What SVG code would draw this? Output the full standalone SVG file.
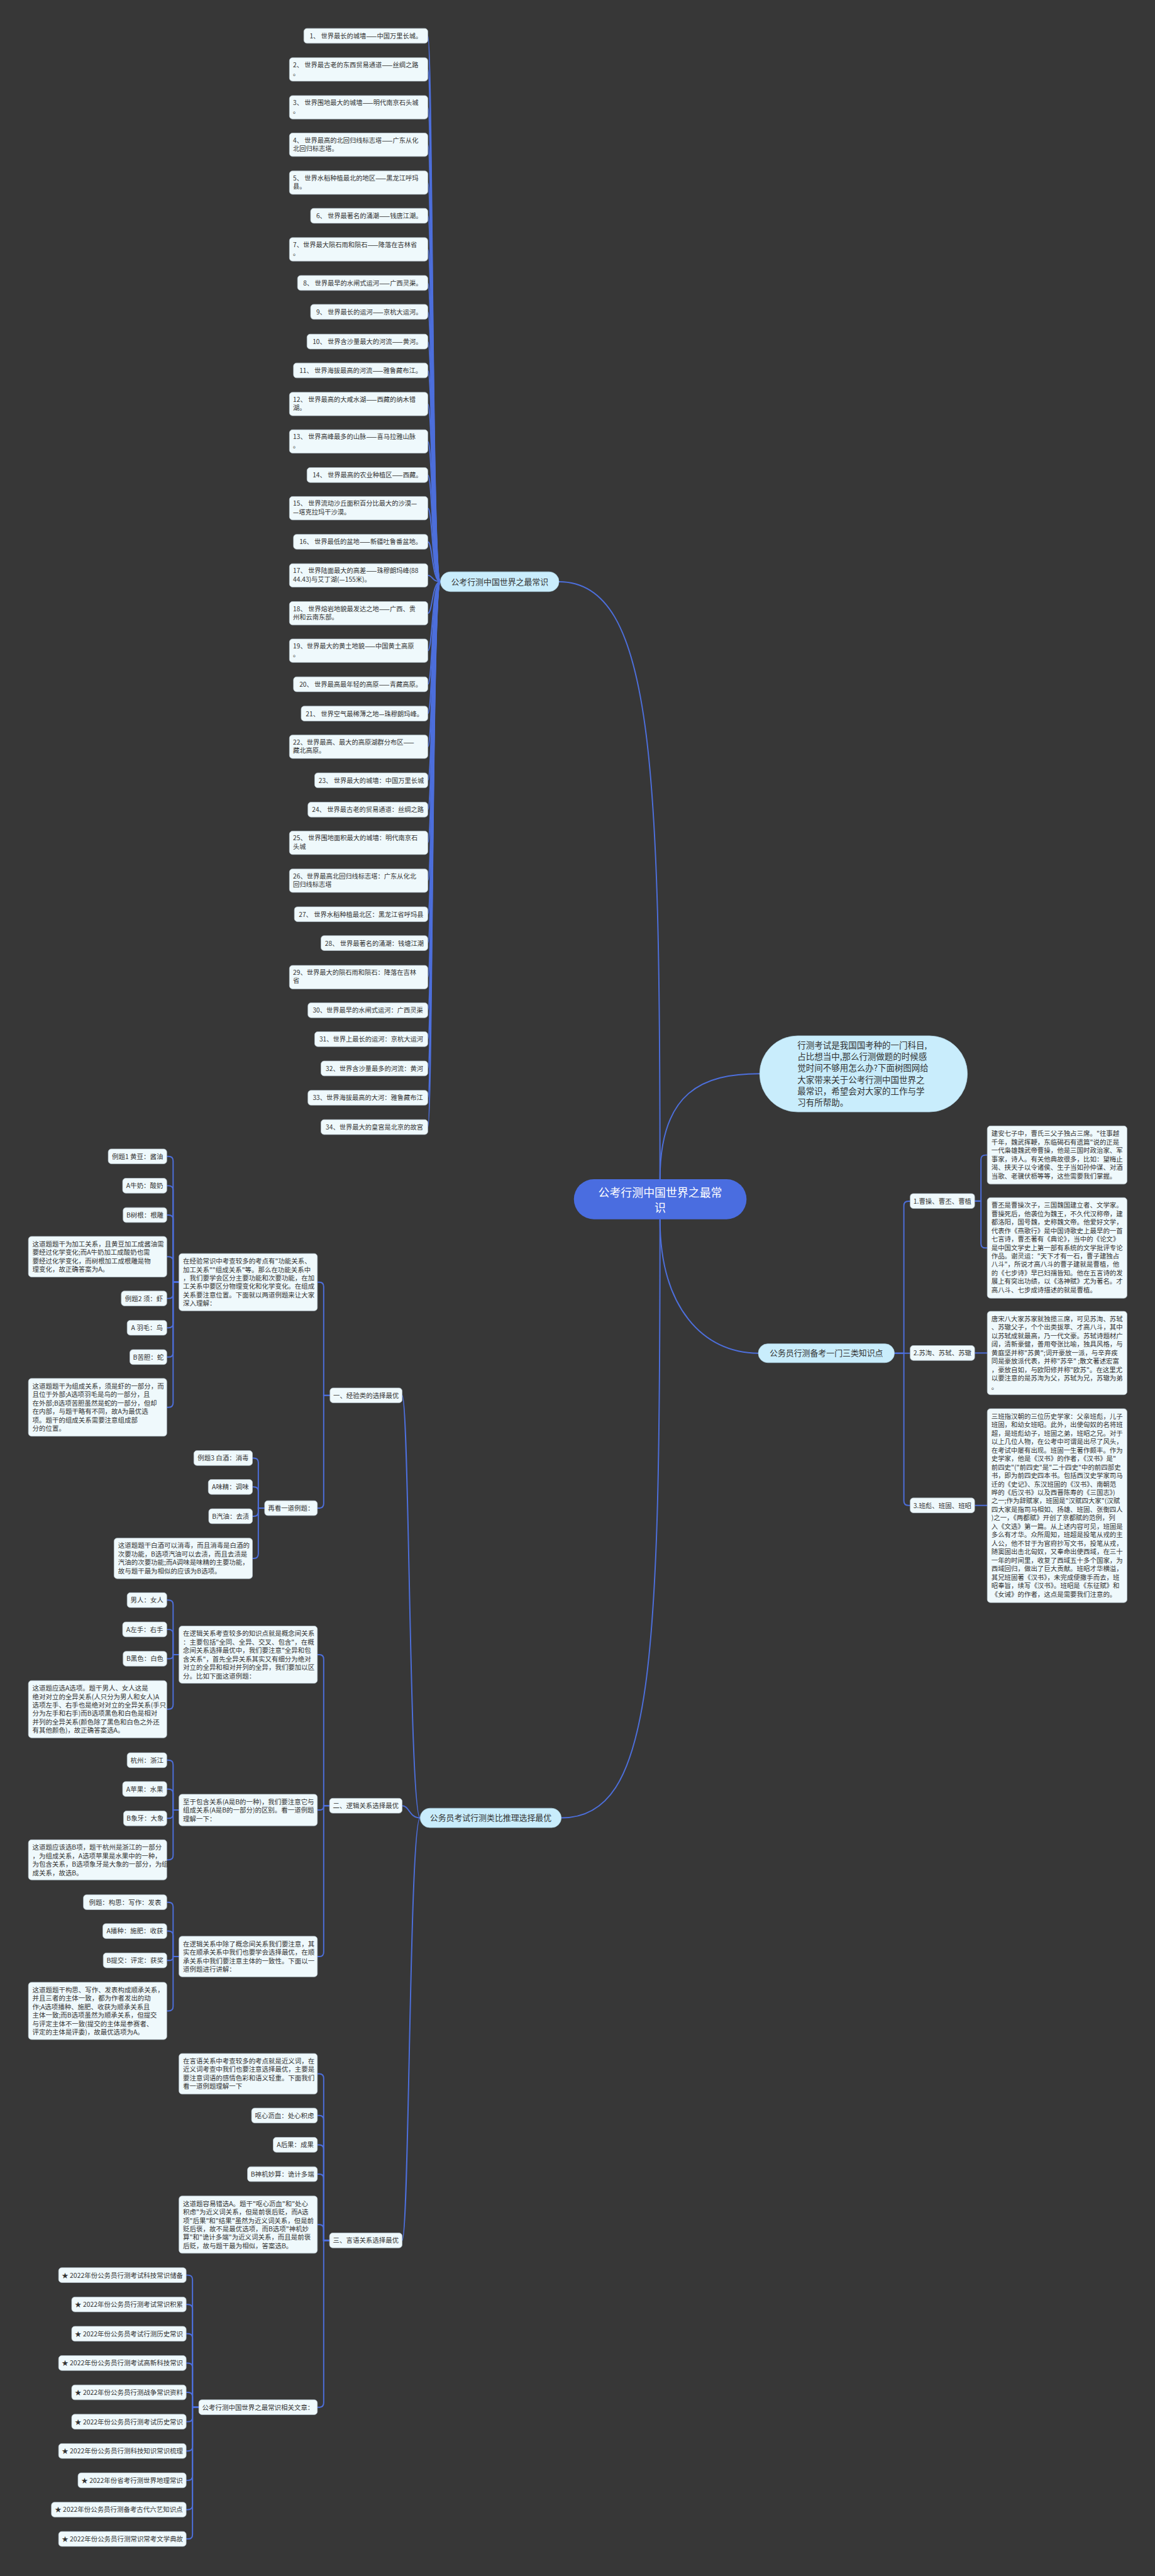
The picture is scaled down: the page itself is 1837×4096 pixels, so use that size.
<svg xmlns="http://www.w3.org/2000/svg" width="1837" height="4096" viewBox="0 0 1837 4096">
<style>
.c{fill:none;stroke:#4d6fdc;stroke-width:2.7}
.bx{fill:#eff9fc;stroke:#b7c6d0;stroke-width:1}
.l1{fill:#c9edfc;stroke:#a9cfe0;stroke-width:1}
.t{font-family:"Noto Sans CJK SC","Noto Sans",sans-serif;font-size:14.6px;fill:#333}
.ti{font-size:14.3px}
.tm{text-anchor:middle}
.t1{font-size:18px}
.t0{font-size:25px;fill:#fff}
</style>
<rect width="1837" height="4096" fill="#373737"/>
<g transform="scale(0.717)">
<g id="connectors">
<path class="c" d="M1464 2615C1464 1700 1450 1290 1240 1290"/>
<path class="c" d="M1464 2615C1464 2420 1560 2381 1685 2381"/>
<path class="c" d="M1464 2704C1464 2900 1560 3001 1682 3001"/>
<path class="c" d="M1464 2704C1464 3700 1450 4031.5 1245 4031.5"/>
<path class="c" d="M977 1290C958 1290 960 79.5 949 79.5"/>
<path class="c" d="M977 1290C958 1290 960 154 949 154"/>
<path class="c" d="M977 1290C958 1290 960 238 949 238"/>
<path class="c" d="M977 1290C958 1290 960 321 949 321"/>
<path class="c" d="M977 1290C958 1290 960 405 949 405"/>
<path class="c" d="M977 1290C958 1290 960 478.5 949 478.5"/>
<path class="c" d="M977 1290C958 1290 960 553 949 553"/>
<path class="c" d="M977 1290C958 1290 960 627.5 949 627.5"/>
<path class="c" d="M977 1290C958 1290 960 691.5 949 691.5"/>
<path class="c" d="M977 1290C958 1290 960 757.5 949 757.5"/>
<path class="c" d="M977 1290C958 1290 960 821.5 949 821.5"/>
<path class="c" d="M977 1290C958 1290 960 896 949 896"/>
<path class="c" d="M977 1290C958 1290 960 979 949 979"/>
<path class="c" d="M977 1290C958 1290 960 1053.5 949 1053.5"/>
<path class="c" d="M977 1290C958 1290 960 1127 949 1127"/>
<path class="c" d="M977 1290C958 1290 960 1201.5 949 1201.5"/>
<path class="c" d="M977 1290C958 1290 960 1276 949 1276"/>
<path class="c" d="M977 1290C958 1290 960 1360 949 1360"/>
<path class="c" d="M977 1290C958 1290 960 1443 949 1443"/>
<path class="c" d="M977 1290C958 1290 960 1517.5 949 1517.5"/>
<path class="c" d="M977 1290C958 1290 960 1582.5 949 1582.5"/>
<path class="c" d="M977 1290C958 1290 960 1656 949 1656"/>
<path class="c" d="M977 1290C958 1290 960 1730.5 949 1730.5"/>
<path class="c" d="M977 1290C958 1290 960 1795.5 949 1795.5"/>
<path class="c" d="M977 1290C958 1290 960 1869 949 1869"/>
<path class="c" d="M977 1290C958 1290 960 1953 949 1953"/>
<path class="c" d="M977 1290C958 1290 960 2027.5 949 2027.5"/>
<path class="c" d="M977 1290C958 1290 960 2091.5 949 2091.5"/>
<path class="c" d="M977 1290C958 1290 960 2167 949 2167"/>
<path class="c" d="M977 1290C958 1290 960 2240.5 949 2240.5"/>
<path class="c" d="M977 1290C958 1290 960 2304.5 949 2304.5"/>
<path class="c" d="M977 1290C958 1290 960 2369.5 949 2369.5"/>
<path class="c" d="M977 1290C958 1290 960 2434.5 949 2434.5"/>
<path class="c" d="M977 1290C958 1290 960 2499.5 949 2499.5"/>
<path class="c" d="M1984 3001H2005V2674Q2005 2664 2015 2664H2019"/>
<path class="c" d="M1984 3001H2019"/>
<path class="c" d="M1984 3001H2005V3328.5Q2005 3338.5 2015 3338.5H2019"/>
<path class="c" d="M2162 2663.5H2176V2571.5Q2176 2561.5 2186 2561.5H2190"/>
<path class="c" d="M2162 2663.5H2176V2757.5Q2176 2767.5 2186 2767.5H2190"/>
<path class="c" d="M2162 3000.5H2190"/>
<path class="c" d="M2162 3338.5H2190"/>
<path class="c" d="M932 4031.5C908 4031.5 908 3094.5 892 3094.5"/>
<path class="c" d="M932 4031.5C908 4031.5 908 4004.5 892 4004.5"/>
<path class="c" d="M932 4031.5C908 4031.5 908 4968.5 892 4968.5"/>
<path class="c" d="M732 3094.5H718V2853.5Q718 2843.5 708 2843.5H704"/>
<path class="c" d="M732 3094.5H718V3334.5Q718 3344.5 708 3344.5H704"/>
<path class="c" d="M397 2843H384V2574.5Q384 2564.5 374 2564.5H370"/>
<path class="c" d="M397 2843H384V2639.5Q384 2629.5 374 2629.5H370"/>
<path class="c" d="M397 2843H384V2704.5Q384 2694.5 374 2694.5H370"/>
<path class="c" d="M397 2843H384V2797Q384 2787 374 2787H370"/>
<path class="c" d="M397 2843H384V2869.5Q384 2879.5 374 2879.5H370"/>
<path class="c" d="M397 2843H384V2934.5Q384 2944.5 374 2944.5H370"/>
<path class="c" d="M397 2843H384V2999.5Q384 3009.5 374 3009.5H370"/>
<path class="c" d="M397 2843H384V3111Q384 3121 374 3121H370"/>
<path class="c" d="M587 3344.5H573V3243.5Q573 3233.5 563 3233.5H560"/>
<path class="c" d="M587 3344.5H573V3307.5Q573 3297.5 563 3297.5H560"/>
<path class="c" d="M587 3344.5H573V3352.5Q573 3362.5 563 3362.5H560"/>
<path class="c" d="M587 3344.5H573V3446Q573 3456 563 3456H560"/>
<path class="c" d="M731 4004.5H718V3679.5Q718 3669.5 708 3669.5H704"/>
<path class="c" d="M731 4004.5H718V4006Q718 4014 710 4014H704"/>
<path class="c" d="M731 4004.5H718V4329Q718 4339 708 4339H704"/>
<path class="c" d="M397 3669.5H384V3558.5Q384 3548.5 374 3548.5H370"/>
<path class="c" d="M397 3669.5H384V3623.5Q384 3613.5 374 3613.5H370"/>
<path class="c" d="M397 3669.5H384V3670.5Q384 3678.5 376 3678.5H370"/>
<path class="c" d="M397 3669.5H384V3780.5Q384 3790.5 374 3790.5H370"/>
<path class="c" d="M397 4014H384V3913.5Q384 3903.5 374 3903.5H370"/>
<path class="c" d="M397 4014H384V3977.5Q384 3967.5 374 3967.5H370"/>
<path class="c" d="M397 4014H384V4022.5Q384 4032.5 374 4032.5H370"/>
<path class="c" d="M397 4014H384V4114.5Q384 4124.5 374 4124.5H370"/>
<path class="c" d="M397 4339H384V4228.5Q384 4218.5 374 4218.5H370"/>
<path class="c" d="M397 4339H384V4292.5Q384 4282.5 374 4282.5H370"/>
<path class="c" d="M397 4339H384V4340Q384 4347.5 376.5 4347.5H370"/>
<path class="c" d="M397 4339H384V4449.5Q384 4459.5 374 4459.5H370"/>
<path class="c" d="M731 4968.5H718V4609Q718 4599 708 4599H704"/>
<path class="c" d="M731 4968.5H718V4701.5Q718 4691.5 708 4691.5H704"/>
<path class="c" d="M731 4968.5H718V4766.5Q718 4756.5 708 4756.5H704"/>
<path class="c" d="M731 4968.5H718V4831.5Q718 4821.5 708 4821.5H704"/>
<path class="c" d="M731 4968.5H718V4943.5Q718 4933.5 708 4933.5H704"/>
<path class="c" d="M731 4968.5H718V5328.5Q718 5338.5 708 5338.5H704"/>
<path class="c" d="M441 5338.5H427V5055.5Q427 5045.5 417 5045.5H413"/>
<path class="c" d="M441 5338.5H427V5120.5Q427 5110.5 417 5110.5H413"/>
<path class="c" d="M441 5338.5H427V5185.5Q427 5175.5 417 5175.5H413"/>
<path class="c" d="M441 5338.5H427V5250.5Q427 5240.5 417 5240.5H413"/>
<path class="c" d="M441 5338.5H427V5315.5Q427 5305.5 417 5305.5H413"/>
<path class="c" d="M441 5338.5H427V5360.5Q427 5370.5 417 5370.5H413"/>
<path class="c" d="M441 5338.5H427V5425.5Q427 5435.5 417 5435.5H413"/>
<path class="c" d="M441 5338.5H427V5490.5Q427 5500.5 417 5500.5H413"/>
<path class="c" d="M441 5338.5H427V5555.5Q427 5565.5 417 5565.5H413"/>
<path class="c" d="M441 5338.5H427V5620.5Q427 5630.5 417 5630.5H413"/>
</g>

<g id="center"><rect x="1273" y="2615" width="383" height="89" rx="44.5" fill="#4a6de0"/><text class="t t0 tm" x="1464.5" y="2654">公考行测中国世界之最常<tspan x="1464.5" dy="34">识</tspan></text></g>

<g id="b-top"><rect class="l1" x="977" y="1268" width="263" height="44" rx="22"/><text class="t t1 tm" x="1108.5" y="1296.5">公考行测中国世界之最常识</text></g>
<g id="b-intro"><rect class="l1" x="1685" y="2297" width="461" height="169" rx="84.5"/><text class="t" style="font-size:18.8px" x="1769" y="2325"><tspan x="1769">行测考试是我国国考种的一门科目,</tspan><tspan x="1769" dy="25.4">占比想当中,那么行测做题的时候感</tspan><tspan x="1769" dy="25.4">觉时间不够用怎么办?下面树图网给</tspan><tspan x="1769" dy="25.4">大家带来关于公考行测中国世界之</tspan><tspan x="1769" dy="25.4">最常识，希望会对大家的工作与学</tspan><tspan x="1769" dy="25.4">习有所帮助。</tspan></text></g>
<g id="b-three"><rect class="l1" x="1682" y="2980" width="302" height="42" rx="21"/><text class="t t1 tm" x="1833" y="3007.5">公务员行测备考一门三类知识点</text></g>
<g id="b-main"><rect class="l1" x="932" y="4010" width="313" height="43" rx="21.5"/><text class="t t1 tm" x="1088.5" y="4038">公务员考试行测类比推理选择最优</text></g>

<g id="top-items">
<g id="i1"><rect class="bx" x="674" y="63" width="275" height="33" rx="7"/><text class="t ti tm" x="811.5" y="85">1、 世界最长的城墙——中国万里长城。</text></g>
<g id="i2"><rect class="bx" x="642" y="128" width="307" height="52" rx="7"/><text class="t ti" x="650" y="149">2、 世界最古老的东西贸易通道——丝绸之路<tspan x="650" dy="18.5">。</tspan></text></g>
<g id="i3"><rect class="bx" x="642" y="212" width="307" height="52" rx="7"/><text class="t ti" x="650" y="233">3、 世界围地最大的城墙——明代南京石头城<tspan x="650" dy="18.5">。</tspan></text></g>
<g id="i4"><rect class="bx" x="642" y="295" width="307" height="52" rx="7"/><text class="t ti" x="650" y="316">4、 世界最高的北回归线标志塔——广东从化<tspan x="650" dy="18.5">北回归标志塔。</tspan></text></g>
<g id="i5"><rect class="bx" x="642" y="379" width="307" height="52" rx="7"/><text class="t ti" x="650" y="400">5、 世界水稻种植最北的地区——黑龙江呼玛<tspan x="650" dy="18.5">县。</tspan></text></g>
<g id="i6"><rect class="bx" x="689" y="462" width="260" height="33" rx="7"/><text class="t ti tm" x="819" y="484">6、 世界最著名的涌潮——钱唐江潮。</text></g>
<g id="i7"><rect class="bx" x="642" y="527" width="307" height="52" rx="7"/><text class="t ti" x="650" y="548">7、世界最大陨石雨和陨石——降落在吉林省<tspan x="650" dy="18.5">。</tspan></text></g>
<g id="i8"><rect class="bx" x="660" y="611" width="289" height="33" rx="7"/><text class="t ti tm" x="804.5" y="633">8、 世界最早的水闸式运河——广西灵渠。</text></g>
<g id="i9"><rect class="bx" x="689" y="675" width="260" height="33" rx="7"/><text class="t ti tm" x="819" y="697">9、 世界最长的运河——京杭大运河。</text></g>
<g id="i10"><rect class="bx" x="681" y="741" width="268" height="33" rx="7"/><text class="t ti tm" x="815" y="763">10、 世界含沙量最大的河流——黄河。</text></g>
<g id="i11"><rect class="bx" x="651" y="805" width="298" height="33" rx="7"/><text class="t ti tm" x="800" y="827">11、 世界海拔最高的河流——雅鲁藏布江。</text></g>
<g id="i12"><rect class="bx" x="642" y="870" width="307" height="52" rx="7"/><text class="t ti" x="650" y="891">12、 世界最高的大咸水湖——西藏的纳木错<tspan x="650" dy="18.5">湖。</tspan></text></g>
<g id="i13"><rect class="bx" x="642" y="953" width="307" height="52" rx="7"/><text class="t ti" x="650" y="974">13、 世界高峰最多的山脉——喜马拉雅山脉<tspan x="650" dy="18.5">。</tspan></text></g>
<g id="i14"><rect class="bx" x="681" y="1037" width="268" height="33" rx="7"/><text class="t ti tm" x="815" y="1059">14、 世界最高的农业种植区——西藏。</text></g>
<g id="i15"><rect class="bx" x="642" y="1101" width="307" height="52" rx="7"/><text class="t ti" x="650" y="1122">15、 世界流动沙丘面积百分比最大的沙漠—<tspan x="650" dy="18.5">—塔克拉玛干沙漠。</tspan></text></g>
<g id="i16"><rect class="bx" x="651" y="1185" width="298" height="33" rx="7"/><text class="t ti tm" x="800" y="1207">16、 世界最低的盆地——新疆吐鲁番盆地。</text></g>
<g id="i17"><rect class="bx" x="642" y="1250" width="307" height="52" rx="7"/><text class="t ti" x="650" y="1271">17、 世界陆面最大的高差——珠穆朗玛峰(88<tspan x="650" dy="18.5">44.43)与艾丁湖(—155米)。</tspan></text></g>
<g id="i18"><rect class="bx" x="642" y="1334" width="307" height="52" rx="7"/><text class="t ti" x="650" y="1355">18、 世界熔岩地貌最发达之地——广西、贵<tspan x="650" dy="18.5">州和云南东部。</tspan></text></g>
<g id="i19"><rect class="bx" x="642" y="1417" width="307" height="52" rx="7"/><text class="t ti" x="650" y="1438">19、世界最大的黄土地貌——中国黄土高原<tspan x="650" dy="18.5">。</tspan></text></g>
<g id="i20"><rect class="bx" x="651" y="1501" width="298" height="33" rx="7"/><text class="t ti tm" x="800" y="1523">20、 世界最高最年轻的高原——青藏高原。</text></g>
<g id="i21"><rect class="bx" x="668" y="1566" width="281" height="33" rx="7"/><text class="t ti tm" x="808.5" y="1588">21、 世界空气最稀薄之地—珠穆朗玛峰。</text></g>
<g id="i22"><rect class="bx" x="642" y="1630" width="307" height="52" rx="7"/><text class="t ti" x="650" y="1651">22、世界最高、最大的高原湖群分布区——<tspan x="650" dy="18.5">藏北高原。</tspan></text></g>
<g id="i23"><rect class="bx" x="698" y="1714" width="251" height="33" rx="7"/><text class="t ti tm" x="823.5" y="1736">23、 世界最大的城墙：中国万里长城</text></g>
<g id="i24"><rect class="bx" x="683" y="1779" width="266" height="33" rx="7"/><text class="t ti tm" x="816" y="1801">24、 世界最古老的贸易通道：丝绸之路</text></g>
<g id="i25"><rect class="bx" x="642" y="1843" width="307" height="52" rx="7"/><text class="t ti" x="650" y="1864">25、 世界围地面积最大的城墙：明代南京石<tspan x="650" dy="18.5">头城</tspan></text></g>
<g id="i26"><rect class="bx" x="642" y="1927" width="307" height="52" rx="7"/><text class="t ti" x="650" y="1948">26、世界最高北回归线标志塔：广东从化北<tspan x="650" dy="18.5">回归线标志塔</tspan></text></g>
<g id="i27"><rect class="bx" x="653" y="2011" width="296" height="33" rx="7"/><text class="t ti tm" x="801" y="2033">27、 世界水稻种植最北区：黑龙江省呼玛县</text></g>
<g id="i28"><rect class="bx" x="712" y="2075" width="237" height="33" rx="7"/><text class="t ti tm" x="830.5" y="2097">28、 世界最著名的涌潮：钱塘江潮</text></g>
<g id="i29"><rect class="bx" x="642" y="2141" width="307" height="52" rx="7"/><text class="t ti" x="650" y="2162">29、世界最大的陨石雨和陨石：降落在吉林<tspan x="650" dy="18.5">省</tspan></text></g>
<g id="i30"><rect class="bx" x="683" y="2224" width="266" height="33" rx="7"/><text class="t ti tm" x="816" y="2246">30、世界最早的水闸式运河：广西灵渠</text></g>
<g id="i31"><rect class="bx" x="698" y="2288" width="251" height="33" rx="7"/><text class="t ti tm" x="823.5" y="2310">31、世界上最长的运河：京杭大运河</text></g>
<g id="i32"><rect class="bx" x="712" y="2353" width="237" height="33" rx="7"/><text class="t ti tm" x="830.5" y="2375">32、世界含沙量最多的河流：黄河</text></g>
<g id="i33"><rect class="bx" x="683" y="2418" width="266" height="33" rx="7"/><text class="t ti tm" x="816" y="2440">33、世界海拔最高的大河：雅鲁藏布江</text></g>
<g id="i34"><rect class="bx" x="712" y="2483" width="237" height="33" rx="7"/><text class="t ti tm" x="830.5" y="2505">34、世界最大的皇宫是北京的故宫</text></g>
</g>

<g id="right">
<g id="r1"><rect class="bx" x="2019" y="2647" width="143" height="33" rx="7"/><text class="t tm" x="2090.5" y="2669">1.曹操、曹丕、曹植</text></g>
<g id="r2"><rect class="bx" x="2019" y="2984" width="143" height="33" rx="7"/><text class="t tm" x="2090.5" y="3006">2.苏洵、苏轼、苏辙</text></g>
<g id="r3"><rect class="bx" x="2019" y="3322" width="143" height="33" rx="7"/><text class="t tm" x="2090.5" y="3344">3.班彪、班固、班昭</text></g>
<g id="r1a"><rect class="bx" x="2190" y="2497" width="310" height="129" rx="7"/><text class="t" x="2199" y="2519"><tspan x="2199">建安七子中，曹氏三父子独占三席。"往事越</tspan><tspan x="2199" dy="18.8">千年，魏武挥鞭，东临碣石有遗篇"说的正是</tspan><tspan x="2199" dy="18.8">一代枭雄魏武帝曹操，他是三国时政治家、军</tspan><tspan x="2199" dy="18.8">事家，诗人。有关他典故很多，比如：望梅止</tspan><tspan x="2199" dy="18.8">渴、挟天子以令诸侯、生子当如孙仲谋、对酒</tspan><tspan x="2199" dy="18.8">当歌、老骥伏枥等等，这些需要我们掌握。</tspan></text></g>
<g id="r1b"><rect class="bx" x="2190" y="2656" width="310" height="223" rx="7"/><text class="t" x="2199" y="2678"><tspan x="2199">曹丕是曹操次子，三国魏国建立者、文学家。</tspan><tspan x="2199" dy="18.8">曹操死后，他袭位为魏王，不久代汉称帝，建</tspan><tspan x="2199" dy="18.8">都洛阳，国号魏，史称魏文帝。他爱好文学，</tspan><tspan x="2199" dy="18.8">代表作《燕歌行》是中国诗歌史上最早的一首</tspan><tspan x="2199" dy="18.8">七言诗，曹丕著有《典论》，当中的《论文》</tspan><tspan x="2199" dy="18.8">是中国文学史上第一部有系统的文学批评专论</tspan><tspan x="2199" dy="18.8">作品。谢灵运："天下才有一石，曹子建独占</tspan><tspan x="2199" dy="18.8">八斗"，所说才高八斗的曹子建就是曹植，他</tspan><tspan x="2199" dy="18.8">的《七步诗》早已妇孺皆知。他在五言诗的发</tspan><tspan x="2199" dy="18.8">展上有突出功绩，以《洛神赋》尤为著名。才</tspan><tspan x="2199" dy="18.8">高八斗、七步成诗描述的就是曹植。</tspan></text></g>
<g id="r2a"><rect class="bx" x="2190" y="2908" width="310" height="185" rx="7"/><text class="t" x="2199" y="2930"><tspan x="2199">唐宋八大家苏家就独揽三席，可见苏洵、苏轼</tspan><tspan x="2199" dy="18.8">、苏辙父子，个个出类拔萃、才高八斗，其中</tspan><tspan x="2199" dy="18.8">以苏轼成就最高，乃一代文豪。苏轼诗题材广</tspan><tspan x="2199" dy="18.8">阔，清新豪健，善用夸张比喻，独具风格，与</tspan><tspan x="2199" dy="18.8">黄庭坚并称"苏黄";词开豪放一派，与辛弃疾</tspan><tspan x="2199" dy="18.8">同是豪放派代表，并称"苏辛" ;散文著述宏富</tspan><tspan x="2199" dy="18.8">，豪放自如，与欧阳修并称"欧苏"。在这里尤</tspan><tspan x="2199" dy="18.8">以要注意的是苏洵为父，苏轼为兄，苏辙为弟</tspan><tspan x="2199" dy="18.8">。</tspan></text></g>
<g id="r3a"><rect class="bx" x="2190" y="3124" width="310" height="430" rx="7"/><text class="t" x="2199" y="3146"><tspan x="2199">三班指汉朝的三位历史学家：父亲班彪，儿子</tspan><tspan x="2199" dy="18.8">班固，和幼女班昭。此外，出使匈奴的名将班</tspan><tspan x="2199" dy="18.8">超，是班彪幼子，班固之弟，班昭之兄。对于</tspan><tspan x="2199" dy="18.8">以上几位人物，在公考中可谓是出尽了风头，</tspan><tspan x="2199" dy="18.8">在考试中屡有出现。班固一生著作颇丰。作为</tspan><tspan x="2199" dy="18.8">史学家，他是《汉书》的作者，《汉书》是"</tspan><tspan x="2199" dy="18.8">前四史"("前四史"是"二十四史"中的前四部史</tspan><tspan x="2199" dy="18.8">书，即为前四史四本书。包括西汉史学家司马</tspan><tspan x="2199" dy="18.8">迁的《史记》、东汉班固的《汉书》、南朝范</tspan><tspan x="2199" dy="18.8">晔的《后汉书》以及西晋陈寿的《三国志》)</tspan><tspan x="2199" dy="18.8">之一;作为辞赋家，班固是"汉赋四大家"(汉赋</tspan><tspan x="2199" dy="18.8">四大家是指司马相如、扬雄、班固、张衡四人</tspan><tspan x="2199" dy="18.8">)之一，《两都赋》开创了京都赋的范例，列</tspan><tspan x="2199" dy="18.8">入《文选》第一篇。从上述内容可见，班固是</tspan><tspan x="2199" dy="18.8">多么有才华。众所周知，班超是投笔从戎的主</tspan><tspan x="2199" dy="18.8">人公，他不甘于为官府抄写文书，投笔从戎，</tspan><tspan x="2199" dy="18.8">随窦固出击北匈奴，又奉命出使西域，在三十</tspan><tspan x="2199" dy="18.8">一年的时间里，收复了西域五十多个国家，为</tspan><tspan x="2199" dy="18.8">西域回归，做出了巨大贡献。班昭才华横溢，</tspan><tspan x="2199" dy="18.8">其兄班固著《汉书》，未完成便撒手而去，班</tspan><tspan x="2199" dy="18.8">昭奉旨，续写《汉书》。班昭是《东征赋》和</tspan><tspan x="2199" dy="18.8">《女诫》的作者，这点是需要我们注意的。</tspan></text></g>
</g>

<g id="left">
<g id="s1"><rect class="bx" x="732" y="3078" width="160" height="33" rx="7"/><text class="t tm" x="812" y="3100">一、经验类的选择最优</text></g>
<g id="s2"><rect class="bx" x="731" y="3988" width="161" height="33" rx="7"/><text class="t tm" x="811.5" y="4010">二、逻辑关系选择最优</text></g>
<g id="s3"><rect class="bx" x="731" y="4952" width="161" height="33" rx="7"/><text class="t tm" x="811.5" y="4974">三、言语关系选择最优</text></g>

<g id="a0"><rect class="bx" x="397" y="2780" width="307" height="127" rx="7"/><text class="t" x="406" y="2802"><tspan x="406">在经验常识中考查较多的考点有"功能关系、</tspan><tspan x="406" dy="18.8">加工关系""组成关系"等。那么在功能关系中</tspan><tspan x="406" dy="18.8">，我们要学会区分主要功能和次要功能，在加</tspan><tspan x="406" dy="18.8">工关系中要区分物理变化和化学变化。在组成</tspan><tspan x="406" dy="18.8">关系要注意位置。下面就以两道例题来让大家</tspan><tspan x="406" dy="18.8">深入理解：</tspan></text></g>
<g id="a1"><rect class="bx" x="240" y="2548" width="130" height="33" rx="7"/><text class="t tm" x="305" y="2570">例题1 黄豆：酱油</text></g>
<g id="a2"><rect class="bx" x="272" y="2613" width="98" height="33" rx="7"/><text class="t tm" x="321" y="2635">A牛奶：酸奶</text></g>
<g id="a3"><rect class="bx" x="273" y="2678" width="97" height="33" rx="7"/><text class="t tm" x="321.5" y="2700">B树根：根雕</text></g>
<g id="a4"><rect class="bx" x="63" y="2742" width="307" height="90" rx="7"/><text class="t" x="72" y="2764"><tspan x="72">这道题题干为加工关系，且黄豆加工成酱油需</tspan><tspan x="72" dy="18.8">要经过化学变化;而A牛奶加工成酸奶也需</tspan><tspan x="72" dy="18.8">要经过化学变化，而树根加工成根雕是物</tspan><tspan x="72" dy="18.8">理变化，故正确答案为A。</tspan></text></g>
<g id="a5"><rect class="bx" x="269" y="2863" width="101" height="33" rx="7"/><text class="t tm" x="319.5" y="2885">例题2 须：虾</text></g>
<g id="a6"><rect class="bx" x="282" y="2928" width="88" height="33" rx="7"/><text class="t tm" x="326" y="2950">A 羽毛：鸟</text></g>
<g id="a7"><rect class="bx" x="288" y="2993" width="82" height="33" rx="7"/><text class="t tm" x="329" y="3015">B苦胆：蛇</text></g>
<g id="a8"><rect class="bx" x="63" y="3057" width="307" height="128" rx="7"/><text class="t" x="72" y="3079"><tspan x="72">这道题题干为组成关系，须是虾的一部分，而</tspan><tspan x="72" dy="18.8">且位于外部;A选项羽毛是鸟的一部分，且</tspan><tspan x="72" dy="18.8">在外部;B选项苦胆虽然是蛇的一部分，但却</tspan><tspan x="72" dy="18.8">在内部，与题干略有不同，故A为最优选</tspan><tspan x="72" dy="18.8">项。题干的组成关系需要注意组成部</tspan><tspan x="72" dy="18.8">分的位置。</tspan></text></g>

<g id="b0"><rect class="bx" x="587" y="3328" width="117" height="33" rx="7"/><text class="t tm" x="645.5" y="3350">再看一道例题：</text></g>
<g id="b1"><rect class="bx" x="430" y="3217" width="130" height="33" rx="7"/><text class="t tm" x="495" y="3239">例题3 白酒：消毒</text></g>
<g id="b2"><rect class="bx" x="462" y="3281" width="98" height="33" rx="7"/><text class="t tm" x="511" y="3303">A味精：调味</text></g>
<g id="b3"><rect class="bx" x="463" y="3346" width="97" height="33" rx="7"/><text class="t tm" x="511.5" y="3368">B汽油：去渍</text></g>
<g id="b4"><rect class="bx" x="253" y="3411" width="307" height="90" rx="7"/><text class="t" x="262" y="3433"><tspan x="262">这道题题干白酒可以消毒，而且消毒是白酒的</tspan><tspan x="262" dy="18.8">次要功能，B选项汽油可以去渍，而且去渍是</tspan><tspan x="262" dy="18.8">汽油的次要功能;而A调味是味精的主要功能，</tspan><tspan x="262" dy="18.8">故与题干最为相似的应该为B选项。</tspan></text></g>

<g id="c0"><rect class="bx" x="397" y="3606" width="307" height="127" rx="7"/><text class="t" x="406" y="3628"><tspan x="406">在逻辑关系考查较多的知识点就是概念间关系</tspan><tspan x="406" dy="18.8">：主要包括"全同、全异、交叉、包含"，在概</tspan><tspan x="406" dy="18.8">念间关系选择最优中，我们要注意"全异和包</tspan><tspan x="406" dy="18.8">含关系"，首先全异关系其实又有细分为绝对</tspan><tspan x="406" dy="18.8">对立的全异和相对并列的全异，我们要加以区</tspan><tspan x="406" dy="18.8">分。比如下面这道例题：</tspan></text></g>
<g id="c1"><rect class="bx" x="282" y="3532" width="88" height="33" rx="7"/><text class="t tm" x="326" y="3554">男人：女人</text></g>
<g id="c2"><rect class="bx" x="272" y="3597" width="98" height="33" rx="7"/><text class="t tm" x="321" y="3619">A左手：右手</text></g>
<g id="c3"><rect class="bx" x="273" y="3662" width="97" height="33" rx="7"/><text class="t tm" x="321.5" y="3684">B黑色：白色</text></g>
<g id="c4"><rect class="bx" x="63" y="3727" width="307" height="127" rx="7"/><text class="t" x="72" y="3749"><tspan x="72">这道题应选A选项。题干男人、女人这是</tspan><tspan x="72" dy="18.8">绝对对立的全异关系(人只分为男人和女人)A</tspan><tspan x="72" dy="18.8">选项左手、右手也是绝对对立的全异关系(手只</tspan><tspan x="72" dy="18.8">分为左手和右手)而B选项黑色和白色是相对</tspan><tspan x="72" dy="18.8">并列的全异关系(颜色除了黑色和白色之外还</tspan><tspan x="72" dy="18.8">有其他颜色)，故正确答案选A。</tspan></text></g>

<g id="d0"><rect class="bx" x="397" y="3979" width="307" height="70" rx="7"/><text class="t" x="406" y="4001"><tspan x="406">至于包含关系(A是B的一种)，我们要注意它与</tspan><tspan x="406" dy="18.8">组成关系(A是B的一部分)的区别。看一道例题</tspan><tspan x="406" dy="18.8">理解一下：</tspan></text></g>
<g id="d1"><rect class="bx" x="282" y="3887" width="88" height="33" rx="7"/><text class="t tm" x="326" y="3909">杭州：浙江</text></g>
<g id="d2"><rect class="bx" x="272" y="3951" width="98" height="33" rx="7"/><text class="t tm" x="321" y="3973">A苹果：水果</text></g>
<g id="d3"><rect class="bx" x="274" y="4016" width="96" height="33" rx="7"/><text class="t tm" x="322" y="4038">B象牙：大象</text></g>
<g id="d4"><rect class="bx" x="63" y="4080" width="307" height="89" rx="7"/><text class="t" x="72" y="4102"><tspan x="72">这道题应该选B项，题干杭州是浙江的一部分</tspan><tspan x="72" dy="18.8">，为组成关系，A选项苹果是水果中的一种，</tspan><tspan x="72" dy="18.8">为包含关系，B选项象牙是大象的一部分，为组</tspan><tspan x="72" dy="18.8">成关系，故选B。</tspan></text></g>

<g id="e0"><rect class="bx" x="397" y="4294" width="307" height="90" rx="7"/><text class="t" x="406" y="4316"><tspan x="406">在逻辑关系中除了概念间关系我们要注意，其</tspan><tspan x="406" dy="18.8">实在顺承关系中我们也要学会选择最优，在顺</tspan><tspan x="406" dy="18.8">承关系中我们要注意主体的一致性。下面以一</tspan><tspan x="406" dy="18.8">道例题进行讲解：</tspan></text></g>
<g id="e1"><rect class="bx" x="185" y="4202" width="185" height="33" rx="7"/><text class="t tm" x="277.5" y="4224">例题：构思：写作：发表</text></g>
<g id="e2"><rect class="bx" x="228" y="4266" width="142" height="33" rx="7"/><text class="t tm" x="299" y="4288">A播种：施肥：收获</text></g>
<g id="e3"><rect class="bx" x="229" y="4331" width="141" height="33" rx="7"/><text class="t tm" x="299.5" y="4353">B提交：评定：获奖</text></g>
<g id="e4"><rect class="bx" x="63" y="4396" width="307" height="127" rx="7"/><text class="t" x="72" y="4418"><tspan x="72">这道题题干构思、写作、发表构成顺承关系，</tspan><tspan x="72" dy="18.8">并且三者的主体一致，都为作者发出的动</tspan><tspan x="72" dy="18.8">作;A选项播种、施肥、收获为顺承关系且</tspan><tspan x="72" dy="18.8">主体一致;而B选项虽然为顺承关系，但提交</tspan><tspan x="72" dy="18.8">与评定主体不一致(提交的主体是参赛者、</tspan><tspan x="72" dy="18.8">评定的主体是评委)，故最优选项为A。</tspan></text></g>

<g id="f1"><rect class="bx" x="397" y="4554" width="307" height="90" rx="7"/><text class="t" x="406" y="4576"><tspan x="406">在言语关系中考查较多的考点就是近义词，在</tspan><tspan x="406" dy="18.8">近义词考查中我们也要注意选择最优，主要是</tspan><tspan x="406" dy="18.8">要注意词语的感情色彩和语义轻重。下面我们</tspan><tspan x="406" dy="18.8">看一道例题理解一下</tspan></text></g>
<g id="f2"><rect class="bx" x="558" y="4675" width="146" height="33" rx="7"/><text class="t tm" x="631" y="4697">呕心沥血：处心积虑</text></g>
<g id="f3"><rect class="bx" x="606" y="4740" width="98" height="33" rx="7"/><text class="t tm" x="655" y="4762">A后果：成果</text></g>
<g id="f4"><rect class="bx" x="549" y="4805" width="155" height="33" rx="7"/><text class="t tm" x="626.5" y="4827">B神机妙算：诡计多端</text></g>
<g id="f5"><rect class="bx" x="397" y="4870" width="307" height="127" rx="7"/><text class="t" x="406" y="4892"><tspan x="406">这道题容易错选A。题干"呕心沥血"和"处心</tspan><tspan x="406" dy="18.8">积虑"为近义词关系，但是前褒后贬，而A选</tspan><tspan x="406" dy="18.8">项"后果"和"结果"虽然为近义词关系，但是前</tspan><tspan x="406" dy="18.8">贬后褒，故不是最优选项，而B选项"神机妙</tspan><tspan x="406" dy="18.8">算"和"诡计多端"为近义词关系，而且是前褒</tspan><tspan x="406" dy="18.8">后贬，故与题干最为相似，答案选B。</tspan></text></g>
<g id="f6"><rect class="bx" x="441" y="5322" width="263" height="33" rx="7"/><text class="t tm" x="572.5" y="5344">公考行测中国世界之最常识相关文章：</text></g>
</g>

<g id="related">
<g id="g1"><rect class="bx" x="130" y="5029" width="283" height="33" rx="7"/><text class="t tm" x="271.5" y="5051">★ 2022年份公务员行测考试科技常识储备</text></g>
<g id="g2"><rect class="bx" x="159" y="5094" width="254" height="33" rx="7"/><text class="t tm" x="286" y="5116">★ 2022年份公务员行测考试常识积累</text></g>
<g id="g3"><rect class="bx" x="159" y="5159" width="254" height="33" rx="7"/><text class="t tm" x="286" y="5181">★ 2022年份公务员考试行测历史常识</text></g>
<g id="g4"><rect class="bx" x="130" y="5224" width="283" height="33" rx="7"/><text class="t tm" x="271.5" y="5246">★ 2022年份公务员行测考试高新科技常识</text></g>
<g id="g5"><rect class="bx" x="159" y="5289" width="254" height="33" rx="7"/><text class="t tm" x="286" y="5311">★ 2022年份公务员行测战争常识资料</text></g>
<g id="g6"><rect class="bx" x="159" y="5354" width="254" height="33" rx="7"/><text class="t tm" x="286" y="5376">★ 2022年份公务员行测考试历史常识</text></g>
<g id="g7"><rect class="bx" x="130" y="5419" width="283" height="33" rx="7"/><text class="t tm" x="271.5" y="5441">★ 2022年份公务员行测科技知识常识梳理</text></g>
<g id="g8"><rect class="bx" x="173" y="5484" width="240" height="33" rx="7"/><text class="t tm" x="293" y="5506">★ 2022年份省考行测世界地理常识</text></g>
<g id="g9"><rect class="bx" x="114" y="5549" width="299" height="33" rx="7"/><text class="t tm" x="263.5" y="5571">★ 2022年份公务员行测备考古代六艺知识点</text></g>
<g id="g10"><rect class="bx" x="130" y="5614" width="283" height="33" rx="7"/><text class="t tm" x="271.5" y="5636">★ 2022年份公务员行测常识常考文学典故</text></g>
</g>
</g>
</svg>
